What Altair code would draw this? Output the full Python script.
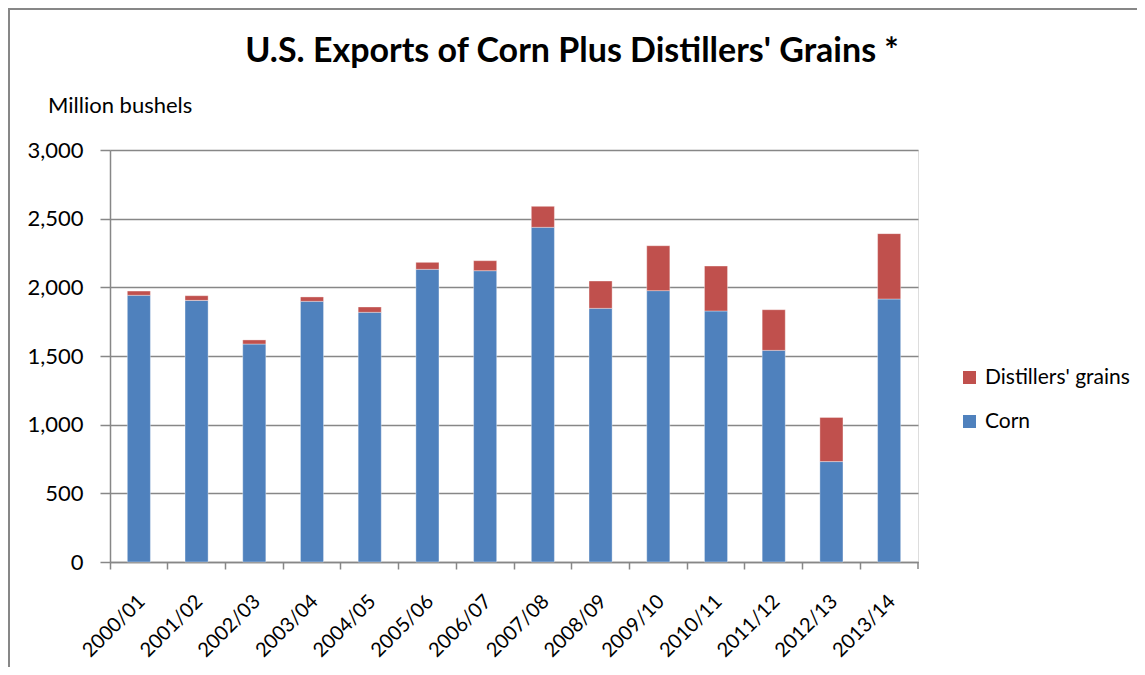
import altair as alt
import pandas as pd

# ---- data ----
seasons = ["2000/01", "2001/02", "2002/03", "2003/04", "2004/05", "2005/06", "2006/07",
           "2007/08", "2008/09", "2009/10", "2010/11", "2011/12", "2012/13", "2013/14"]
corn = [1942, 1905, 1587, 1898, 1818, 2131, 2121, 2437, 1847, 1976, 1828, 1541, 731, 1915]
dgrains = [31, 34, 30, 32, 39, 51, 73, 153, 199, 327, 327, 296, 322, 476]
series_names = ["Distillers' grains", "Corn"]
series_colors = ["#C0504D", "#4F81BD"]
y_ticks = [0, 500, 1000, 1500, 2000, 2500, 3000]
title_text = "U.S. Exports of Corn Plus Distillers' Grains *"
y_title = "Million bushels"

FONT = "Lato"
GREY = "#878787"

rows = []
for s, c, d in zip(seasons, corn, dgrains):
    rows.append({"season": s, "series": "Corn", "value": c, "ord": 0})
    rows.append({"season": s, "series": "Distillers' grains", "value": d, "ord": 1})
df = pd.DataFrame(rows)

W, H = 808, 412

bars = alt.Chart(df).mark_bar(
    width={"band": 0.4}, stroke="#ffffff", strokeOpacity=0.45, strokeWidth=0.8
).encode(
    x=alt.X("season:N", sort=seasons,
            scale=alt.Scale(paddingInner=0, paddingOuter=0),
            axis=alt.Axis(title=None, labelAngle=-45, labelAlign="right",
                          labelBaseline="middle", bandPosition=0,
                          labelOffset=3, labelPadding=29, tickSize=7,
                          labelFontSize=20, labelFont=FONT, labelColor="#000000",
                          domainColor=GREY, tickColor=GREY, domainWidth=1.5,
                          tickWidth=1.5, grid=False)),
    y=alt.Y("value:Q", stack="zero",
            scale=alt.Scale(domain=[0, 3000], nice=False),
            axis=alt.Axis(title=None, values=y_ticks, format=",.0f", tickSize=10,
                          labelPadding=17, labelFontSize=22, labelFont=FONT,
                          labelColor="#000000", domainColor=GREY, tickColor=GREY,
                          domainWidth=1.5, tickWidth=1.5, grid=True,
                          gridColor=GREY, gridWidth=1.3)),
    color=alt.Color("series:N",
                    scale=alt.Scale(domain=series_names, range=series_colors),
                    legend=alt.Legend(title=None, orient="none", legendX=849,
                                      legendY=217, symbolType="square",
                                      symbolSize=169, symbolStrokeWidth=0,
                                      labelFontSize=21, labelFont=FONT,
                                      labelColor="#000000", labelOffset=5,
                                      rowPadding=22)),
    order=alt.Order("ord:Q", sort="ascending"),
)

one = pd.DataFrame({"t": [title_text], "y": [y_title]})

title = alt.Chart(one).mark_text(
    font=FONT, fontSize=34, fontWeight="bold", align="center",
    baseline="alphabetic", color="#000000"
).encode(text="t:N", x=alt.value(462), y=alt.value(-88))

ytitle = alt.Chart(one).mark_text(
    font=FONT, fontSize=22, align="left", baseline="alphabetic", color="#000000"
).encode(text="y:N", x=alt.value(-62), y=alt.value(-37))

last_tick = alt.Chart(one).mark_rect(color=GREY).encode(
    x=alt.value(W - 0.75), x2=alt.value(W + 0.75), y=alt.value(H), y2=alt.value(H + 7))

frame = alt.Chart(one).mark_rect(
    fillOpacity=0, stroke=GREY, strokeWidth=2
).encode(
    x=alt.value(-101), x2=alt.value(1100), y=alt.value(-141), y2=alt.value(640))

chart = alt.layer(bars, title, ytitle, last_tick, frame).properties(
    width=W, height=H,
    autosize=alt.AutoSizeParams(type="none"),
    padding={"left": 102, "top": 142, "right": 219, "bottom": 105},
).configure_view(stroke=None).configure(background="#ffffff")

chart.save("out.html", embed_options={"renderer": "svg", "actions": False})
